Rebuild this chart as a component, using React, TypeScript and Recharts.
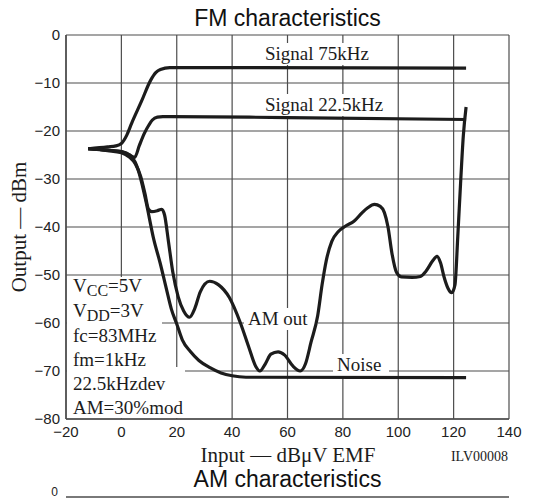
import { LineChart, Line, XAxis, YAxis, CartesianGrid, Customized } from "recharts"

// tick values
const xTicks = [-20, 0, 20, 40, 60, 80, 100, 120, 140]
const yTicks = [-80, -70, -60, -50, -40, -30, -20, -10, 0]

// curves: [input dBuV, output dBm]
const signal75 = [
  [-12, -23.7], [-5, -23.3], [-2, -23.1], [0, -22.6], [2, -20.8], [3.7, -18.4],
  [7.2, -13.9], [10.6, -9.4], [12.5, -7.8], [14.1, -7.2], [17.5, -6.8], [30, -6.8],
  [124.5, -6.9],
]
const signal225 = [
  [-12, -23.7], [-5, -24], [0, -24.3], [3, -25], [4.8, -25.5], [6.5, -23],
  [8.3, -20.5], [10, -18.7], [11.2, -17.7], [13, -17.1], [15, -17], [60, -17.2],
  [124.5, -17.6],
]
const amOut = [
  [-12, -23.7], [-5, -24.1], [0, -24.5], [3, -25.5], [5, -26.8], [7, -29.5],
  [8.5, -33], [9.8, -36.3], [11, -36.8], [13, -36.6], [14.6, -36.3], [15.6, -37.5],
  [17, -43], [18.6, -49.5], [20.5, -54.5], [22.5, -57.5], [24.6, -58.8], [26.5, -57],
  [28.5, -53.5], [31.9, -51.3], [35, -52], [39, -54.7], [43, -60], [46, -65],
  [48.5, -69], [50, -70], [52, -68.5], [54, -66.5], [56.6, -66], [59, -66.7],
  [62, -69], [64.6, -70], [66.5, -68.5], [68.5, -64], [70.9, -58.5], [72.5, -52],
  [74, -47], [76, -43], [78.3, -41], [81, -39.8], [84, -38.8], [87, -37],
  [89, -36], [91.4, -35.3], [93.5, -35.7], [95, -37], [96.3, -40], [97.7, -45.4],
  [99.4, -49.5], [101.1, -50.4], [105, -50.5], [108, -50.3], [110, -49.2], [112.5, -47],
  [114, -46.1], [115.3, -47.5], [116.5, -50.3], [118, -52.8], [119.3, -53.7], [120.5, -52],
  [121.5, -42], [122.5, -31], [123.5, -21], [124.5, -15],
]
const noise = [
  [-12, -23.7], [-5, -24], [0, -24.3], [3, -25], [5, -26.5], [7, -30],
  [9, -35], [11.7, -42.6], [14, -47.5], [16.3, -53], [18, -57], [20, -60.2],
  [22, -63.5], [25, -66], [28, -67.8], [32, -69.3], [36, -70.4], [40, -71],
  [45, -71.3], [124.5, -71.4],
]

const toPoints = (arr: number[][]) => arr.map(([x, y]) => ({ x, y }))

const SERIF = "'Liberation Serif', 'Times New Roman', serif"
const SANS = "'Liberation Sans', Arial, sans-serif"
const INK = "#1c1c1c"
const GRID = "#4d4d4d"

const fmtMinus = (v: number) => String(v).replace("-", "\u2212")

// text labels on white patches (they break the grid like the original)
function Annotations() {
  const label = (txt: string, x: number, y: number, w: number) => (
    <g>
      <rect x={x - 4} y={y - 17} width={w} height={22} fill="#fff" />
      <text x={x} y={y} fontFamily={SERIF} fontSize={19} fill={INK}>{txt}</text>
    </g>
  )
  const boxLines = ["fc=83MHz", "fm=1kHz", "22.5kHzdev", "AM=30%mod"]
  return (
    <g>
      {label("Signal 75kHz", 265, 60, 116)}
      {label("Signal 22.5kHz", 265, 111, 130)}
      {label("AM out", 248, 325, 74)}
      {label("Noise", 337, 371, 56)}
      {/* conditions box */}
      <rect x={67} y={277} width={83} height={19} fill="#fff" />
      <rect x={67} y={296} width={95} height={32} fill="#fff" />
      <rect x={67} y={328} width={93} height={39} fill="#fff" />
      <rect x={67} y={367} width={118} height={51} fill="#fff" />
      <text x={73} y={292} fontFamily={SERIF} fontSize={19} fill={INK}>
        V<tspan fontSize={16} dy={4}>CC</tspan><tspan dy={-4}>=5V</tspan>
      </text>
      <text x={73} y={317} fontFamily={SERIF} fontSize={19} fill={INK}>
        V<tspan fontSize={16} dy={4}>DD</tspan><tspan dy={-4}>=3V</tspan>
      </text>
      {boxLines.map((t, i) => (
        <text key={t} x={73} y={342 + i * 24} fontFamily={SERIF} fontSize={19} fill={INK}>{t}</text>
      ))}
    </g>
  )
}

export default function App() {
  return (
    <div style={{ position: "absolute", left: 0, top: 0, width: 545, height: 498, background: "#fff", overflow: "hidden" }}>
      <LineChart width={545} height={498} margin={{ top: 35, right: 36, bottom: 49, left: 0 }}>
        <CartesianGrid stroke={GRID} strokeWidth={1.2} />
        <XAxis
          type="number"
          dataKey="x"
          domain={[-20, 140]}
          ticks={xTicks}
          height={30}
          tickSize={0}
          tickMargin={7}
          tickFormatter={fmtMinus}
          tick={{ fill: "#222", fontSize: 15, fontFamily: SANS }}
          axisLine={{ stroke: GRID, strokeWidth: 1.5 }}
          allowDataOverflow
        />
        <YAxis
          type="number"
          dataKey="y"
          domain={[-80, 0]}
          ticks={yTicks}
          width={66}
          tickSize={0}
          tickMargin={6}
          tickFormatter={fmtMinus}
          tick={{ fill: "#222", fontSize: 15, fontFamily: SANS }}
          axisLine={{ stroke: GRID, strokeWidth: 1.5 }}
          allowDataOverflow
        />
        <Customized component={Annotations} />
        <Line data={toPoints(signal75)} dataKey="y" type="monotone" stroke={INK} strokeWidth={3.2} dot={false} isAnimationActive={false} />
        <Line data={toPoints(signal225)} dataKey="y" type="monotone" stroke={INK} strokeWidth={3.2} dot={false} isAnimationActive={false} />
        <Line data={toPoints(noise)} dataKey="y" type="monotone" stroke={INK} strokeWidth={3.2} dot={false} isAnimationActive={false} />
        <Line data={toPoints(amOut)} dataKey="y" type="monotone" stroke={INK} strokeWidth={3.2} dot={false} isAnimationActive={false} />
        <Customized
          component={() => (
            <g>
              <text x={287.5} y={26} textAnchor="middle" fontFamily={SANS} fontSize={23} fill="#111">FM characteristics</text>
              <text transform="translate(26,227) rotate(-90)" textAnchor="middle" fontFamily={SERIF} fontSize={21} fill={INK}>Output — dBm</text>
              <text x={288} y={462} textAnchor="middle" fontFamily={SERIF} fontSize={21} fill={INK}>Input — dBμV EMF</text>
              <text x={508} y={461} textAnchor="end" fontFamily={SERIF} fontSize={14} fill={INK}>ILV00008</text>
              <text x={287.5} y={487} textAnchor="middle" fontFamily={SANS} fontSize={23} fill="#111">AM characteristics</text>
              <line x1={66} y1={497} x2={509} y2={497} stroke={GRID} strokeWidth={1.5} />
              <text x={58} y={496} textAnchor="end" fontFamily={SANS} fontSize={12} fill="#222">0</text>
            </g>
          )}
        />
      </LineChart>
    </div>
  )
}
